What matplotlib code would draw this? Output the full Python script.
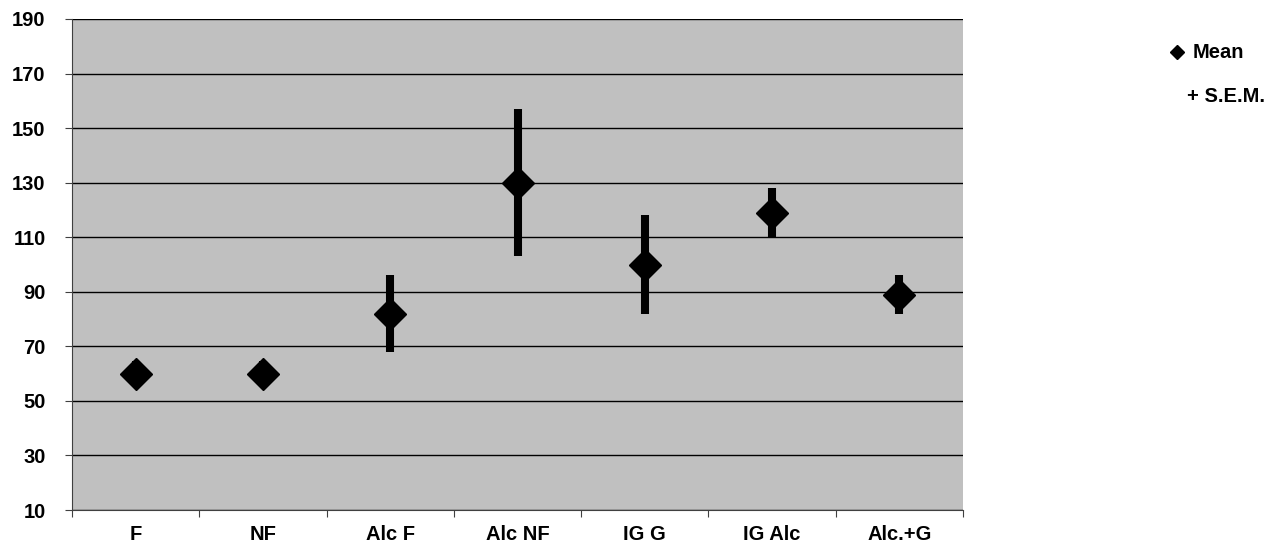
import matplotlib.pyplot as plt
import numpy as np

# Group labels, means and S.E.M.
groups = ['F', 'NF', 'Alc F', 'Alc NF', 'IG G', 'IG Alc', 'Alc.+G']
means = [60, 60, 82, 130, 100, 119, 89]
sems = [4.5, 4.5, 14, 27, 18, 9, 7]

plt.rcParams['font.family'] = ['Liberation Sans', 'DejaVu Sans']
plt.rcParams['font.weight'] = 'bold'

fig = plt.figure(figsize=(12.88, 5.51), dpi=100)
ax = fig.add_axes([72 / 1288, 41 / 551, 891 / 1288, 491 / 551])
ax.set_facecolor('#c0c0c0')

x = np.arange(len(groups))
ax.errorbar(x, means, yerr=sems, fmt='none', ecolor='black', elinewidth=5.8, capsize=0, zorder=3)
ax.plot(x, means, linestyle='none', marker='D', markersize=16, color='black', zorder=4)

ax.set_xlim(-0.5, len(groups) - 0.5)
ax.set_ylim(10, 190)
ax.set_yticks(np.arange(10, 191, 20))
ax.yaxis.grid(True, color='black', linewidth=1)
ax.set_axisbelow(True)

# category labels in the middle, tick marks at the boundaries
ax.set_xticks(np.arange(-0.5, len(groups), 1.0))
ax.set_xticklabels([])
ax.set_xticks(x, minor=True)
ax.set_xticklabels(groups, minor=True, fontsize=14.5, fontweight='bold')
ax.tick_params(axis='x', which='minor', length=0, pad=11)
ax.tick_params(axis='x', which='major', length=5, direction='out', color='#404040')
ax.tick_params(axis='y', length=5, direction='out', color='#404040', labelsize=14.5, pad=14)
for lbl in ax.get_yticklabels():
    lbl.set_fontweight('bold')

for s in ['top', 'right']:
    ax.spines[s].set_visible(False)
ax.spines['left'].set_color('#404040')
ax.spines['bottom'].set_color('#404040')

# legend drawn as plain figure text like the original
fig.lines.append(plt.Line2D([1177 / 1288], [1 - 52 / 551], marker='D', markersize=7,
                            color='black', linestyle='none', transform=fig.transFigure))
fig.text(1193 / 1288, 1 - 52 / 551, 'Mean', fontsize=14.5, fontweight='bold', va='center', ha='left')
fig.text(1187 / 1288, 1 - 96 / 551, '+ S.E.M.', fontsize=14.5, fontweight='bold', va='center', ha='left')

plt.savefig('out.png', dpi=100)
